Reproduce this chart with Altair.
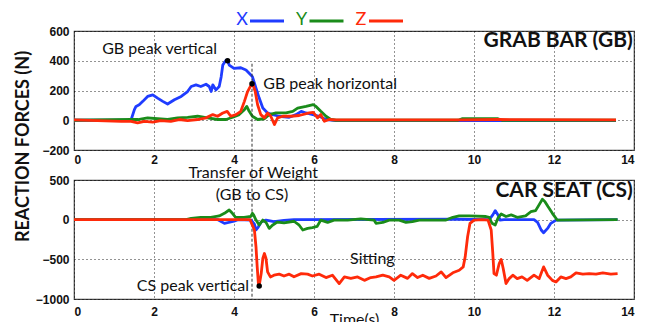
import altair as alt
import pandas as pd

SERIES = ["X", "Y", "Z"]
COLORS = ["#1f3cff", "#1a8c1a", "#ff2a0a"]

# ---------------- GRAB BAR (top panel) ----------------
gb_x_t = [0, 1.38, 1.43, 1.51, 1.55, 1.63, 1.72, 1.84, 1.97, 2.09, 2.22, 2.34, 2.51, 2.68, 2.84, 2.93,
          3.05, 3.17, 3.3, 3.38, 3.43, 3.47, 3.55, 3.63, 3.68, 3.72, 3.8, 3.84, 3.88, 4.0, 4.17, 4.3,
          4.38, 4.46, 4.55, 4.63, 4.72, 4.84, 4.97, 5.13, 5.38, 5.55, 5.68, 5.8, 5.97, 6.13, 6.3, 6.55,
          8.0, 10.0, 12.0, 13.55]
gb_x_v = [0, 0, 5, 71, 93, 104, 127, 160, 171, 149, 127, 109, 138, 160, 193, 227,
          238, 227, 242, 227, 193, 238, 204, 227, 293, 371, 404, 400, 371, 349, 353, 338,
          316, 293, 215, 149, 82, 49, 38, 27, 20, 38, 60, 49, 38, 27, 5, -3,
          -3, -3, -3, -3]

gb_y_t = [0, 1.43, 1.6, 1.84, 2.09, 2.34, 2.59, 2.84, 3.09, 3.34, 3.59, 3.8, 3.97, 4.13, 4.26, 4.32,
          4.38, 4.46, 4.59, 4.76, 4.88, 5.05, 5.3, 5.47, 5.59, 5.8, 5.98, 6.05, 6.17, 6.3, 6.42, 6.55,
          9.6, 9.7, 10.6, 10.7, 13.55]
gb_y_v = [0, 5, 5, 16, 10, 5, 16, 20, 27, 16, 5, 5, 20, 38, 71, 93,
          60, 27, 5, 10, 38, 49, 49, 60, 82, 93, 105, 93, 60, 27, 5, 0,
          0, 10, 10, 0, 0]

gb_z_t = [0, 1.18, 1.43, 1.59, 1.76, 1.97, 2.17, 2.42, 2.63, 2.84, 3.09, 3.3, 3.47, 3.59, 3.72, 3.83,
          3.92, 4.05, 4.17, 4.26, 4.34, 4.43, 4.46, 4.53, 4.59, 4.67, 4.76, 4.84, 4.92, 5.01, 5.09,
          5.22, 5.42, 5.63, 5.88, 5.98, 6.09, 6.17, 6.26, 6.38, 6.55, 9.7, 10.6, 13.55]
gb_z_v = [3, -7, -7, -18, -7, -13, -2, -7, 5, -2, 5, 16, 38, 27, 49, 60,
          27, 38, 60, 127, 193, 238, 250, 193, 104, 38, 16, 49, 27, -29, 16,
          27, 27, 32, 49, 53, 16, 38, -7, 5, 3, 3, 5, 3]

# ---------------- CAR SEAT (bottom panel) ----------------
cs_x_t = [0, 3.6, 3.76, 4.0, 4.1, 4.43, 4.51, 4.55, 4.61, 4.68, 4.8, 5.0, 5.25, 5.5, 9.55, 10.38,
          10.47, 10.53, 10.6, 10.65, 10.75, 11.5, 11.59, 11.68, 11.74, 11.84, 11.92, 12.05, 13.59]
cs_x_v = [0, 0, -47, -20, 0, -5, -55, -130, -90, -30, -5, -25, -10, 0, 5, 0,
          60, 114, 60, -5, 0, 0, -35, -130, -165, -110, -46, -5, 0]

cs_y_t = [0, 2.8, 2.93, 3.17, 3.42, 3.63, 3.76, 3.88, 3.96, 4.04, 4.25, 4.42, 4.46, 4.49, 4.55, 4.63,
          4.72, 4.8, 4.88, 4.96, 5.08, 5.25, 5.5, 5.63, 5.72, 5.84, 5.96, 6.08, 6.17, 6.34, 6.5, 6.84,
          7.17, 7.5, 7.55, 7.72, 7.88, 8.13, 8.3, 8.46, 8.63, 9.3, 9.47, 9.63, 9.88, 10.3, 10.38, 10.45,
          10.53, 10.6, 10.68, 10.8, 10.93, 11.08, 11.29, 11.42, 11.54, 11.63, 11.71, 11.77, 11.85,
          11.96, 12.08, 13.59]
cs_y_v = [0, 0, 17, 30, 30, 47, 80, 122, 80, 30, 30, 40, 80, 60, -5, -67,
          -5, -35, -110, -70, -30, -40, -20, -70, -130, -110, -100, -85, -5, -35, -5, -5,
          10, -5, -46, -35, -5, -5, -35, -25, -5, -5, 30, 47, 47, 40, 30, -46,
          -67, 20, 72, 40, 60, 30, 47, 100, 114, 190, 257, 230, 165,
          80, -5, 0]

cs_z_t = [0, 4.4, 4.51, 4.55, 4.58, 4.61, 4.63, 4.68, 4.72, 4.76, 4.8, 4.84, 4.91, 5.0, 5.13, 5.25,
          5.38, 5.5, 5.68, 5.84, 5.96, 6.13, 6.3, 6.46, 6.63, 6.76, 6.92, 7.09, 7.26, 7.42, 7.55,
          7.72, 7.88, 8.0, 8.17, 8.34, 8.46, 8.59, 8.72, 8.88, 9.05, 9.18, 9.3, 9.47, 9.63, 9.73,
          9.78, 9.84, 9.9, 10.0, 10.2, 10.35, 10.43, 10.47, 10.5, 10.56, 10.63, 10.68, 10.73, 10.8,
          10.88, 10.97, 11.08, 11.2, 11.33, 11.5, 11.63, 11.74, 11.84, 11.96, 12.05, 12.17, 12.3,
          12.42, 12.55, 12.72, 12.88, 13.05, 13.22, 13.42, 13.59]
cs_z_v = [0, 0, -130, -342, -595, -806, -830, -680, -490, -426, -490, -658, -722, -700, -687, -710,
          -687, -720, -680, -687, -710, -687, -730, -700, -806, -722, -740, -722, -765, -730, -722,
          -700, -722, -765, -700, -740, -680, -730, -700, -740, -710, -658, -730, -670, -637, -595,
          -468, -215, -46, -5, 0, -5, -130, -426, -680, -700, -553, -502, -616, -806,
          -743, -700, -743, -722, -765, -700, -743, -595, -700, -765, -785, -722, -743,
          -722, -670, -687, -680, -687, -670, -687, -680]

# annotation points
gb_pts_t = [3.84, 4.45]
gb_pts_v = [400, 245]
cs_pts_t = [4.63]
cs_pts_v = [-835]
transfer_t = 4.45

TIME_TICKS = [0, 2, 4, 6, 8, 10, 12, 14]
GB_TICKS = [-200, 0, 200, 400, 600]
CS_TICKS = [-1000, -500, 0, 500]

W, H, GAP = 560, 119, 30
TXT_FONT = "Lato"
LBL_FONT = "Liberation Sans"


def frame(ts, vs):
    rows = []
    for s, t, v in zip(SERIES, ts, vs):
        for a, b in zip(t, v):
            rows.append({"series": s, "t": a, "v": b})
    return pd.DataFrame(rows)


gb_df = frame([gb_x_t, gb_y_t, gb_z_t], [gb_x_v, gb_y_v, gb_z_v])
cs_df = frame([cs_x_t, cs_y_t, cs_z_t], [cs_x_v, cs_y_v, cs_z_v])

color = alt.Color("series:N", scale=alt.Scale(domain=SERIES, range=COLORS), legend=None)

grid_axis = dict(grid=True, gridColor="#000", gridDash=[1, 3], gridOpacity=0.85, gridWidth=1,
                 ticks=False, domain=False, labelFont=LBL_FONT, labelFontWeight="bold",
                 labelFontSize=12, labelColor="#111", labelOverlap=False, format="d")

top_x_axis = alt.Axis(values=TIME_TICKS, title=None, labelPadding=4, **grid_axis)
top_y_axis = alt.Axis(values=GB_TICKS, title="REACTION FORCES (N)", titleFont=TXT_FONT,
                      titleFontSize=18, titleFontWeight="bold", titleColor="#111",
                      titleX=-51, titleY=115, titleBaseline="middle", labelPadding=5, **grid_axis)
bot_x_axis = alt.Axis(values=TIME_TICKS, title="Time(s)", titleFont=TXT_FONT, titleFontSize=16,
                      titleFontWeight="normal", titleColor="#111", titleY=12, titleBaseline="top",
                      labelPadding=7, **grid_axis)
bot_y_axis = alt.Axis(values=CS_TICKS, title=None, labelPadding=5, **grid_axis)

PANELS = {
    "top": (top_x_axis, top_y_axis, [-200, 600]),
    "bot": (bot_x_axis, bot_y_axis, [-1000, 500]),
}


def enc_xy(panel):
    xa, ya, ydom = PANELS[panel]
    return dict(
        x=alt.X("t:Q", scale=alt.Scale(domain=[0, 14], nice=False), axis=xa),
        y=alt.Y("v:Q", scale=alt.Scale(domain=ydom, nice=False), axis=ya),
    )


def lines(df, panel):
    return alt.Chart(df).mark_line(strokeWidth=2.8, strokeJoin="round").encode(
        color=color, detail="series:N", **enc_xy(panel)
    )


def note(panel, t, v, text, align="center", size=16, weight="normal"):
    return alt.Chart(pd.DataFrame({"t": [t], "v": [v], "txt": [text]})).mark_text(
        align=align, baseline="middle", font=TXT_FONT, fontSize=size, fontWeight=weight, color="#111"
    ).encode(text="txt:N", **enc_xy(panel))


def dots(panel, ts, vs):
    return alt.Chart(pd.DataFrame({"t": ts, "v": vs})).mark_point(
        filled=True, color="black", size=30, opacity=1
    ).encode(**enc_xy(panel))


# legend made of text + short lines above top panel
legend_layers = []
for i, (s, c) in enumerate(zip(SERIES, COLORS)):
    x0 = 168 + i * 59.5
    legend_layers.append(
        alt.Chart(pd.DataFrame({"s": [s]})).mark_text(
            font=TXT_FONT, fontSize=18, color=c, align="center", baseline="middle"
        ).encode(text="s:N", x=alt.value(x0), y=alt.value(-11))
    )
    legend_layers.append(
        alt.Chart(pd.DataFrame({"s": [s]})).mark_rule(color=c, strokeWidth=3).encode(
            x=alt.value(x0 + 8), x2=alt.value(x0 + 42), y=alt.value(-10)
        )
    )

transfer_rule = alt.Chart(pd.DataFrame({"t": [transfer_t], "v": [380]})).mark_rule(
    color="#333", strokeDash=[3, 2], strokeWidth=1
).encode(y2=alt.value(H + GAP + H), **enc_xy("top"))

top = alt.layer(
    lines(gb_df, "top"),
    transfer_rule,
    dots("top", gb_pts_t, gb_pts_v),
    note("top", 2.14, 477, "GB peak vertical"),
    note("top", 4.73, 247, "GB peak horizontal", align="left"),
    note("top", 13.97, 530, "GRAB BAR (GB)", align="right", size=21, weight="bold"),
    *legend_layers,
).properties(width=W, height=H)

bottom = alt.layer(
    lines(cs_df, "bot"),
    dots("bot", cs_pts_t, cs_pts_v),
    note("bot", 4.48, 589, "Transfer of Weight"),
    note("bot", 4.45, 316, "(GB to CS)"),
    note("bot", 4.375, -835, "CS peak vertical", align="right"),
    note("bot", 7.46, -500, "Sitting"),
    note("bot", 13.97, 360, "CAR SEAT (CS)", align="right", size=21, weight="bold"),
).properties(width=W, height=H)

chart = alt.vconcat(top, bottom, spacing=GAP, bounds="flush").properties(
    padding={"left": 5, "top": 2, "right": 0, "bottom": 0},
    background="white",
).configure_view(stroke="#444", strokeWidth=1.2).configure_axis(labelOverlap=False)

chart.save("out.html", embed_options={"renderer": "svg", "actions": False})
